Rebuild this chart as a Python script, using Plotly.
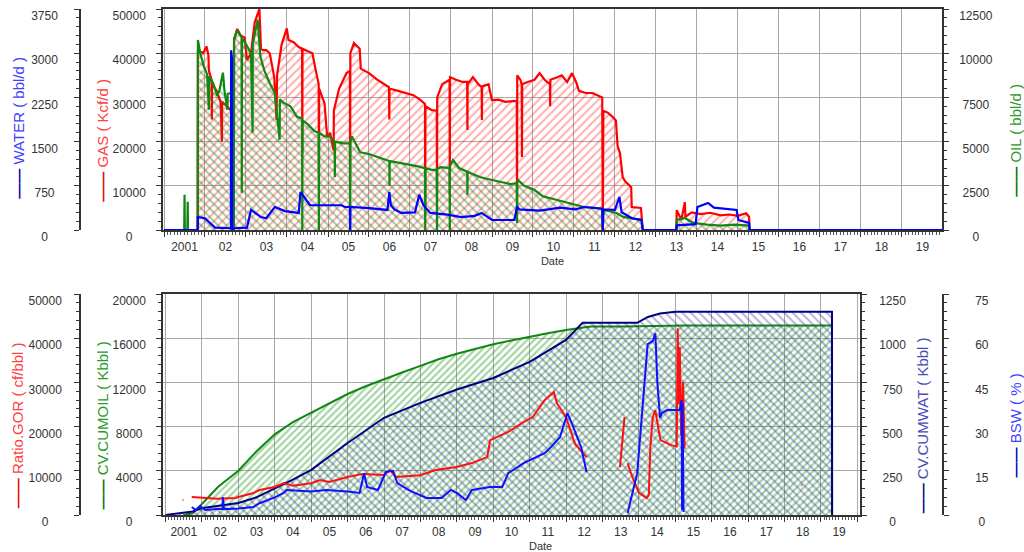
import plotly.graph_objects as go

# ---------------- TOP PANEL DATA (daily rates) ----------------
GAS_DATES = ["2001-01-01","2001-10-28","2001-10-30","2001-12-15","2002-01-15","2002-02-01","2002-02-05","2002-03-01","2002-03-03","2002-03-05",
             "2002-04-15","2002-05-20","2002-06-01","2002-06-03","2002-07-15","2002-08-25","2002-08-27","2002-09-15","2002-09-17","2002-10-15",
             "2002-11-15","2002-12-20","2003-01-10","2003-02-15","2003-03-20","2003-05-01","2003-05-15","2003-06-01","2003-07-01","2003-08-01",
             "2003-09-10","2003-10-01","2003-10-05","2003-11-15","2003-12-31","2004-01-15","2004-03-01","2004-04-15","2004-05-15","2004-05-17",
             "2004-05-19","2004-07-01","2004-08-15","2004-09-15","2004-10-10","2004-10-12","2004-10-14","2004-12-01","2004-12-25","2005-01-20",
             "2005-02-20","2005-02-22","2005-04-10","2005-06-15","2005-07-15","2005-07-17","2005-07-19","2005-08-20","2005-10-10","2005-10-20",
             "2006-01-01","2006-03-15","2006-05-15","2006-06-28","2006-07-01","2006-07-03","2006-09-01","2006-11-15","2007-02-01","2007-04-01",
             "2007-05-15","2007-05-17","2007-05-19","2007-07-15","2007-08-28","2007-08-30","2007-09-01","2007-10-15","2007-12-20","2007-12-22",
             "2007-12-24","2008-02-15","2008-04-15","2008-05-25","2008-05-27","2008-05-29","2008-07-15","2008-09-01","2008-10-01","2008-10-03",
             "2008-10-05","2008-12-01","2008-12-31","2009-03-01","2009-05-01","2009-07-20","2009-08-10","2009-08-12","2009-08-14","2009-09-10",
             "2009-09-23","2009-09-25","2009-09-27","2009-11-15","2010-01-15","2010-03-01","2010-04-15","2010-06-01","2010-06-03","2010-06-05",
             "2010-08-01","2010-09-15","2010-11-01","2010-12-15","2011-01-20","2011-02-15","2011-04-15","2011-06-15","2011-09-10","2011-09-15",
             "2011-09-20","2011-11-01","2011-12-15","2012-01-10","2012-01-25","2012-02-15","2012-03-10","2012-04-01","2012-05-25","2012-05-30",
             "2012-08-20","2012-09-05","2013-07-01","2013-07-05","2013-08-15","2013-09-15","2013-09-20","2013-11-15","2014-02-01","2014-05-01",
             "2014-08-01","2014-10-15","2015-01-01","2015-03-15","2015-04-10","2015-04-15","2020-01-01"]
GAS_VALUES = [0,0,40700,40000,41500,39500,36000,34000,25000,33000,
              31500,29000,20000,29000,28000,27000,0,0,43000,45500,
              44000,43500,38500,40000,47000,50000,41000,40700,40700,40000,
              34600,24900,35000,42000,45600,43000,42500,41400,41000,17400,
              41000,40500,40000,36000,33000,12000,32000,28700,21000,22000,
              18000,27000,32000,35500,36000,10000,40000,42300,41000,36500,
              35500,34000,33000,32300,25000,32000,31600,31000,30500,29500,
              28500,3000,28000,27100,27000,8000,30000,33000,34000,8000,
              34600,34000,33500,33500,22600,33000,34600,33000,32300,24900,
              32500,33000,29400,29500,29000,29200,29000,4500,35000,34000,
              33000,16500,33000,33500,34000,35500,34000,33000,28000,34000,
              34500,35000,33500,35500,33500,31500,31000,31000,30000,0,
              27000,26500,25500,24800,19000,17400,12000,11000,9700,5200,
              5000,0,0,4500,2300,6300,3000,4000,3600,3900,
              3300,3500,3200,3800,3000,0,0]

OIL_DATES = ["2001-01-01","2001-06-30","2001-07-03","2001-07-06","2001-07-28","2001-07-31","2001-08-03","2001-10-28","2001-10-30","2001-11-20",
             "2001-12-20","2002-01-20","2002-02-05","2002-02-07","2002-03-15","2002-04-20","2002-05-10","2002-06-10","2002-06-25","2002-07-20",
             "2002-07-22","2002-08-25","2002-08-27","2002-09-15","2002-09-17","2002-10-15","2002-11-10","2002-11-23","2002-11-25","2002-11-27",
             "2002-12-25","2003-02-15","2003-03-01","2003-03-03","2003-04-15","2003-05-10","2003-06-15","2003-08-01","2003-09-15","2003-10-28",
             "2003-10-30","2003-12-01","2004-02-01","2004-04-01","2004-05-15","2004-05-17","2004-05-19","2004-07-01","2004-09-01","2004-10-10",
             "2004-10-12","2004-10-14","2004-12-01","2005-01-15","2005-03-01","2005-03-03","2005-03-05","2005-05-15","2005-07-15","2005-07-17",
             "2005-07-19","2005-08-01","2005-09-15","2005-10-15","2006-01-01","2006-04-01","2006-07-01","2006-07-03","2006-07-05","2006-10-01",
             "2007-01-01","2007-03-15","2007-05-15","2007-05-17","2007-05-19","2007-07-15","2007-08-28","2007-08-30","2007-09-01","2007-10-01",
             "2007-12-20","2007-12-22","2007-12-24","2008-01-20","2008-03-15","2008-05-25","2008-05-27","2008-05-29","2008-07-01","2008-09-15",
             "2008-11-15","2009-01-15","2009-04-01","2009-06-15","2009-08-10","2009-08-12","2009-08-14","2009-08-25","2009-10-15","2010-01-15",
             "2010-04-01","2010-07-01","2010-10-01","2011-01-15","2011-04-01","2011-07-01","2011-09-10","2011-09-15","2011-09-20","2011-10-15",
             "2012-01-15","2012-03-15","2012-06-15","2012-08-25","2012-09-05","2013-07-01","2013-07-05","2013-09-15","2013-12-01","2014-04-01",
             "2014-08-01","2014-12-01","2015-04-10","2015-04-15","2020-01-01"]
OIL_VALUES = [0,0,2000,0,0,1600,0,0,10750,10000,
              9300,8800,6800,8700,8300,7600,7900,8900,7800,6800,
              7700,7750,0,0,10800,11300,11000,10900,2100,10800,
              10600,10000,5500,10500,11900,9800,9000,8300,7750,5100,
              7400,7200,7000,6400,6300,0,6200,6000,5600,5500,
              0,5500,5300,5300,5000,3000,5000,4900,4900,0,
              5000,5300,4800,4400,4300,4100,3900,2500,3900,3800,
              3700,3600,3500,0,3500,3400,3400,0,3450,3550,
              3500,0,3600,3960,3500,3300,2000,3300,3200,3000,
              2900,2830,2700,2600,2650,400,2700,2800,2500,2260,
              1900,1750,1600,1400,1300,1250,1200,0,1150,1100,
              960,740,650,570,0,0,570,680,400,300,
              250,300,250,0,0]

WATER_DATES = ["2001-01-01","2001-10-28","2001-10-30","2002-01-01","2002-02-15","2002-04-01","2002-08-20","2002-08-22","2002-08-30","2002-09-01",
               "2002-09-17","2003-01-10","2003-02-15","2003-04-15","2003-05-15","2003-07-01","2003-09-15","2003-12-15","2004-04-15","2004-05-01",
               "2004-06-15","2004-07-25","2005-01-01","2005-05-01","2005-06-01","2005-07-15","2005-07-17","2005-07-19","2006-01-01","2006-06-15",
               "2006-07-01","2006-07-15","2006-08-15","2006-10-15","2007-02-15","2007-03-25","2007-05-01","2007-07-01","2007-12-01","2008-04-01",
               "2008-08-01","2008-10-01","2008-12-31","2009-07-20","2009-08-12","2009-09-01","2010-03-01","2010-09-01","2011-01-15","2011-04-01",
               "2011-09-10","2011-09-15","2011-09-20","2012-01-01","2012-02-10","2012-03-01","2012-06-01","2012-08-25","2012-09-05","2013-07-01",
               "2013-07-05","2013-12-20","2014-01-05","2014-04-10","2014-06-01","2014-09-01","2014-12-20","2015-01-05","2015-04-10","2015-04-15",
               "2020-01-01"]
WATER_VALUES = [0,0,220,200,120,40,30,3050,2900,0,
                30,40,340,250,220,200,390,320,290,645,
                520,420,420,420,390,390,0,390,370,340,
                645,420,350,290,300,600,420,290,260,220,
                240,290,170,170,400,350,330,380,350,390,
                360,0,350,340,560,300,200,170,0,0,
                80,100,390,460,380,360,340,170,120,0,
                0]

# ---------------- BOTTOM PANEL DATA ----------------
CUMOIL_DATES = ["2001-06-28","2001-07-20","2001-10-01","2001-11-15","2002-01-10","2002-06-10","2003-01-01","2003-07-01","2004-01-01","2004-07-01",
                "2005-01-01","2005-07-01","2006-01-01","2006-07-01","2007-01-01","2007-07-01","2008-01-01","2008-07-01","2009-01-01","2009-07-01",
                "2010-01-01","2010-07-01","2011-01-01","2011-07-01","2012-01-01","2012-06-01","2012-09-01","2013-07-01","2015-04-15","2019-04-22",
                "2019-04-23"]
CUMOIL_VALUES = [0,30,150,600,1090,2530,4000,5750,7300,8400,
                 9250,10150,10950,11650,12300,12900,13500,14100,14600,15050,
                 15450,15800,16150,16450,16750,16950,17050,17060,17150,17150,
                 0]

CUMWAT_DATES = ["2001-01-01","2001-10-01","2002-01-10","2003-01-01","2003-07-01","2004-01-01","2004-07-01","2005-01-01","2006-01-01","2007-01-01",
                "2008-01-01","2009-01-01","2010-01-01","2011-01-01","2012-01-01","2012-06-15","2013-12-15","2014-04-01","2014-08-01","2015-01-01",
                "2019-04-22","2019-04-23"]
CUMWAT_VALUES = [0,20,40,68,100,150,200,255,407,550,
                 634,710,775,866,990,1087,1087,1120,1140,1149,
                 1149,0]

GOR_DATES = ["2001-06-20","2001-06-28",None,"2001-09-20","2001-12-01","2002-01-10","2002-06-01","2002-12-01","2003-01-01","2003-06-01",
             "2003-08-01","2004-01-01","2004-04-01","2004-07-01","2005-01-01","2005-04-01","2005-07-01","2006-01-01","2006-06-01","2007-01-01",
             "2007-03-01","2007-05-01","2008-01-01","2008-06-01","2009-01-01","2009-06-01","2009-11-01","2009-12-01","2010-06-01","2010-10-15",
             "2011-02-01","2011-06-01","2011-09-01","2011-10-01","2012-01-01","2012-04-01","2012-07-25",None,"2013-06-25","2013-08-10",
             None,"2013-09-10","2013-10-20","2014-01-01","2014-03-20","2014-04-10","2014-04-25","2014-05-20","2014-06-15","2014-07-20","2014-08-05",
             "2014-11-20","2015-01-15","2015-01-25","2015-02-05","2015-02-15","2015-03-01","2015-03-20","2015-04-05",None,"2018-06-20",
             "2018-06-28"]
GOR_VALUES = [3400,3400,None,4070,4000,3840,3700,3840,4070,4970,
              5650,6330,7230,6600,7200,7900,7460,8600,9300,9040,
              10170,8600,9000,10170,10850,11750,13100,16950,18800,20800,
              22150,26000,27800,25300,22150,16000,13100,None,10850,22150,
              None,11700,9000,5000,3840,4500,15000,22150,23700,19000,16950,
              15800,15500,42260,25000,38000,18000,30000,15000,None,6780,
              6700]

BSW_DATES = ["2001-09-20","2001-11-01","2001-12-15","2002-02-01","2002-06-01","2002-07-25","2002-07-30","2002-08-10","2003-01-01","2003-06-01",
             "2003-08-01","2004-01-01","2004-04-01","2004-05-01","2005-01-01","2005-06-01","2006-01-01","2006-05-01","2006-06-15","2006-07-15",
             "2006-11-01","2007-01-20","2007-04-01","2007-05-15","2007-09-01","2008-03-01","2008-08-01","2008-11-01","2009-01-01","2009-04-01",
             "2009-06-01","2009-12-01","2010-04-01","2010-06-01","2010-11-01","2011-01-01","2011-06-01","2011-08-01","2011-11-01","2012-01-15",
             "2012-03-01","2012-06-01","2012-07-25",None,"2013-09-10","2013-12-15","2014-03-30","2014-05-20","2014-06-15","2014-07-05",
             "2014-08-01","2014-08-20","2014-10-10","2015-02-15","2015-03-05","2015-03-10","2015-03-15","2015-03-25"]
BSW_VALUES = [2.7,1.7,3.0,1.7,2.0,2.0,6.1,2.0,2.2,2.7,
              4.0,6.0,7.5,8.5,8.0,8.5,8.0,7.5,14.2,9.5,
              8.5,14.6,15.0,10.8,8.5,5.8,5.8,8.5,7.5,5.1,
              8.5,9.5,9.5,14.2,17.6,18.6,21.0,23.0,26.4,34.6,
              31.0,23.0,14.6,None,0.7,14.2,58.0,59.0,61.7,45.0,
              33.0,34.6,35.6,35.6,39.0,1.7,38.0,1.0]

# ---------------- AXIS TICKS ----------------
FS, PS, ZW = "\u2007", "\u2008", "\u200b"
WATER_TICKS = [0, 750, 1500, 2250, 3000, 3750]
WATER_TEXT = ["0" + FS + PS, "750" + PS, "1500", "2250", "3000", "3750"]
GAS_TICKS = [0, 10000, 20000, 30000, 40000, 50000]
GAS_TEXT = ["0" + FS + FS, "10000", "20000", "30000", "40000", "50000"]
OIL_TICKS = [0, 2500, 5000, 7500, 10000, 12500]
OIL_TEXT = [FS + FS + "0", PS + "2500", PS + "5000", PS + "7500", "10000", "12500"]
GOR_TICKS = [0, 10000, 20000, 30000, 40000, 50000]
GOR_TEXT = ["0" + FS + FS, "10000", "20000", "30000", "40000", "50000"]
CUMOIL_TICKS = [0, 4000, 8000, 12000, 16000, 20000]
CUMOIL_TEXT = ["0" + FS + FS, "4000" + PS, "8000" + PS, "12000", "16000", "20000"]
CUMWAT_TICKS = [0, 250, 500, 750, 1000, 1250]
CUMWAT_TEXT = [FS + PS + "0", PS + "250", PS + "500", PS + "750", "1000", "1250"]
BSW_TICKS = [0, 15, 30, 45, 60, 75]
BSW_TEXT = [PS + "0", "15", "30", "45", "60", "75"]

W, H = 1024, 552
AX = "#333333"
GRID = "#a8a8a8"
FONT = "Liberation Sans, Arial, sans-serif"

def ttl(dash_color, text_color, text, pad):
    return (f"<span style='color:{dash_color}'><b>——</b></span> "
            f"<span style='color:{text_color}'>{text}</span>" + FS * pad + ZW)

fig = go.Figure()

def hatch(shape, color, solidity=0.35, size=6):
    return dict(shape=shape, fgcolor=color, bgcolor="rgba(255,255,255,0)", size=size, solidity=solidity)

fig.add_trace(go.Scatter(x=GAS_DATES, y=GAS_VALUES, xaxis="x", yaxis="y", mode="lines",
                         line=dict(color="#ff0000", width=2.2), fill="tozeroy",
                         fillpattern=hatch("/", "rgba(255,60,60,0.85)", 0.33, 6)))
fig.add_trace(go.Scatter(x=OIL_DATES, y=OIL_VALUES, xaxis="x", yaxis="y2", mode="lines",
                         line=dict(color="#118811", width=2.2), fill="tozeroy",
                         fillpattern=hatch("\\", "rgba(30,130,30,0.8)", 0.33, 6)))
fig.add_trace(go.Scatter(x=WATER_DATES, y=WATER_VALUES, xaxis="x", yaxis="y3", mode="lines",
                         line=dict(color="#0000ff", width=2.2)))

fig.add_trace(go.Scatter(x=CUMOIL_DATES, y=CUMOIL_VALUES, xaxis="x2", yaxis="y4", mode="lines",
                         line=dict(color="#118811", width=2), fill="tozeroy",
                         fillpattern=hatch("/", "rgba(50,160,50,0.9)", 0.42, 5)))
fig.add_trace(go.Scatter(x=CUMWAT_DATES, y=CUMWAT_VALUES, xaxis="x2", yaxis="y5", mode="lines",
                         line=dict(color="#000080", width=2), fill="tozeroy",
                         fillpattern=hatch("\\", "rgba(40,40,140,0.7)", 0.33, 6)))
fig.add_trace(go.Scatter(x=GOR_DATES, y=GOR_VALUES, xaxis="x2", yaxis="y6", mode="lines",
                         line=dict(color="#ff1010", width=2), connectgaps=False))
fig.add_trace(go.Scatter(x=BSW_DATES, y=BSW_VALUES, xaxis="x2", yaxis="y7", mode="lines",
                         line=dict(color="#1010ff", width=2), connectgaps=False))

def xax(domain, anchor, rng, title=None):
    d = dict(domain=domain, anchor=anchor, type="date", range=rng,
             tickmode="linear", tick0="2001-01-01", dtick="M12", ticklabelmode="period",
             tickformat="%y", labelalias={"01": "2001"},
             ticks="outside", ticklen=5, tickcolor=AX, tickwidth=1,
             showline=True, linecolor=AX, linewidth=1.5, mirror=True,
             showgrid=True, gridcolor=GRID, gridwidth=1, zeroline=False,
             tickfont=dict(size=12, color="#333"),
             minor=dict(tickmode="linear", tick0="2001-01-01", dtick="M1", ticks="outside",
                        ticklen=3, tickcolor="#555", showgrid=False),
             automargin=False)
    if title:
        d["title"] = dict(text=title, font=dict(size=11, color="#333"), standoff=4)
    return d

def yax(rng, tv, tt, minor, title, title_standoff, side="left", standoff_lbl=8, **kw):
    d = dict(range=rng, tickmode="array", tickvals=tv, ticktext=tt, side=side,
             ticks="outside", ticklen=5, tickcolor=AX, showline=True, linecolor=AX, linewidth=1.5,
             zeroline=False, showgrid=False, tickfont=dict(size=12, color="#333"),
             ticklabelstandoff=standoff_lbl, ticklabelshift=7, ticklabeloverflow="allow",
             minor=dict(tickmode="linear", tick0=0, dtick=minor, ticks="outside", ticklen=3,
                        tickcolor=AX, showgrid=False),
             title=dict(text=title, font=dict(size=15), standoff=title_standoff), automargin=False)
    d.update(kw)
    return d

top_dom = [(H - 230) / H, (H - 9) / H]
bot_dom = [(H - 515) / H, (H - 294) / H]

fig.update_layout(
    width=W, height=H, margin=dict(l=0, r=0, t=0, b=0),
    paper_bgcolor="white", plot_bgcolor="white", showlegend=False, hovermode=False,
    font=dict(family=FONT, size=12, color="#333"),
    xaxis=xax([163 / W, 942 / W], "y", ["2000-12-23", "2019-12-24"], "Date"),
    xaxis2=xax([163 / W, 860 / W], "y4", ["2000-12-06", "2020-01-28"]),
    yaxis=yax([0, 50000], GAS_TICKS, GAS_TEXT, 2000, ttl("#e00000", "#ff4040", "GAS ( Kcf/d )", 5), 0,
              domain=top_dom, anchor="x", showgrid=True, gridcolor=GRID),
    yaxis2=yax([0, 12500], OIL_TICKS, OIL_TEXT, 500, ttl("#007000", "#2a9a2a", "OIL ( bbl/d )", 5), 22,
               side="right", overlaying="y", anchor="x"),
    yaxis3=yax([0, 3750], WATER_TICKS, WATER_TEXT, 150, ttl("#0000b0", "#4040ff", "WATER ( bbl/d )", 2), 2,
               standoff_lbl=14, overlaying="y", anchor="free", position=80 / W),
    yaxis4=yax([0, 20000], CUMOIL_TICKS, CUMOIL_TEXT, 800, ttl("#007000", "#2a9a2a", "CV.CUMOIL ( Kbbl )", 5), 0,
               domain=bot_dom, anchor="x2", showgrid=True, gridcolor=GRID),
    yaxis5=yax([0, 1250], CUMWAT_TICKS, CUMWAT_TEXT, 50, ttl("#000080", "#4a4ab8", "CV.CUMWAT ( Kbbl )", 5), 12,
               side="right", standoff_lbl=10, overlaying="y4", anchor="x2"),
    yaxis6=yax([0, 50000], GOR_TICKS, GOR_TEXT, 2000, ttl("#e00000", "#ff4040", "Ratio.GOR ( cf/bbl )", 5), 0,
               standoff_lbl=10, overlaying="y4", anchor="free", position=80 / W),
    yaxis7=yax([0, 75], BSW_TICKS, BSW_TEXT, 3, ttl("#0000b0", "#4040ff", "BSW ( % )", 5), 24,
               side="right", standoff_lbl=24, overlaying="y4", anchor="free", position=943 / W),
    annotations=[dict(text="Date", x=540 / W, y=(H - 546) / H, xref="paper", yref="paper",
                      xanchor="center", yanchor="middle",
                      showarrow=False, font=dict(size=11, color="#333"))],
)

fig.write_html("out.html", config={"displayModeBar": False},
               post_script="document.body.style.margin='0px';document.body.style.padding='0px';")
